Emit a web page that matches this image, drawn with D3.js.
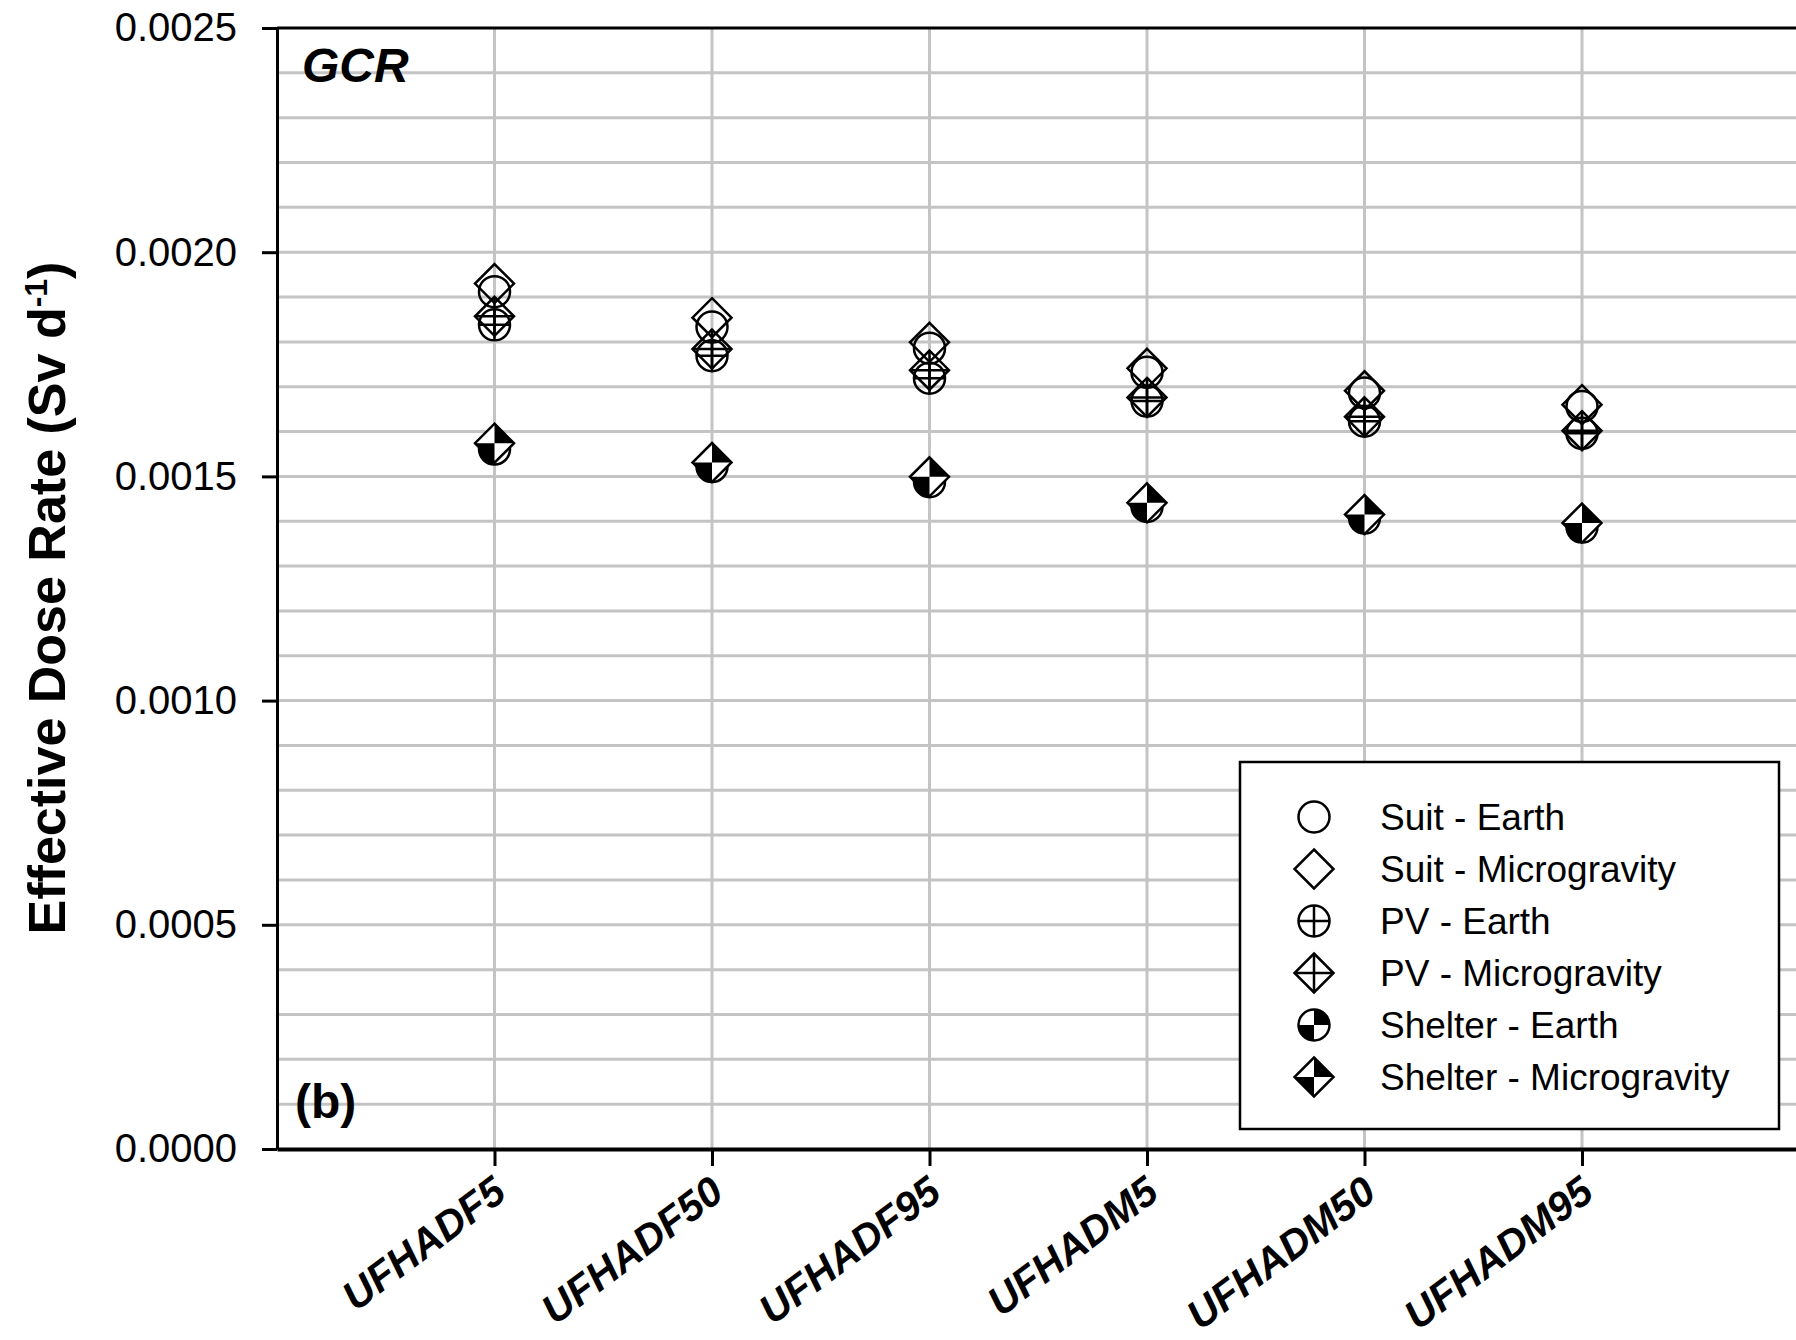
<!DOCTYPE html>
<html>
<head>
<meta charset="utf-8">
<script src="https://cdn.jsdelivr.net/npm/d3@7"></script>
<style>
    body { margin: 0; background: #fff; }
    svg { display: block; font-family: "Liberation Sans", Arial, sans-serif; }
</style>
</head>
<body>
<div id="chart"></div>
<script>
// values (Sv per day)
var categories = ["UFHADF5", "UFHADF50", "UFHADF95", "UFHADM5", "UFHADM50", "UFHADM95"];
var suitEarth = [0.001912, 0.001833, 0.001786, 0.001732, 0.001686, 0.001656];
var suitMicro = [0.001930, 0.001854, 0.001799, 0.001741, 0.001691, 0.001660];
var pvEarth = [0.001838, 0.001769, 0.001719, 0.001668, 0.001623, 0.001596];
var pvMicro = [0.001857, 0.001784, 0.001737, 0.001676, 0.001633, 0.001602];
var shelterEarth = [0.001561, 0.001522, 0.001488, 0.001433, 0.001407, 0.001387];
var shelterMicro = [0.001574, 0.001531, 0.001499, 0.001441, 0.001415, 0.001396];
var yTicks = [0, 0.0005, 0.0010, 0.0015, 0.0020, 0.0025];
var seriesNames = ["Suit - Earth", "Suit - Microgravity", "PV - Earth", "PV - Microgravity", "Shelter - Earth", "Shelter - Microgravity"];

chart();

function chart() {
    var width = 1796
    var height = 1340

    var svg = d3.select("#chart")
        .append("svg")
        .attr("width", width)
        .attr("height", height);

    var left = 277, top = 28, bottom = 1149;

    var x = d3.scaleLinear().domain([0, 7]).range([left, left + 7 * 217.5]);
    var y = d3.scaleLinear().domain([0, 0.0025]).range([bottom, top]);

    var series = [
        { name: seriesNames[0], shape: "circle", kind: "open", values: suitEarth },
        { name: seriesNames[1], shape: "diamond", kind: "open", values: suitMicro },
        { name: seriesNames[2], shape: "circle", kind: "cross", values: pvEarth },
        { name: seriesNames[3], shape: "diamond", kind: "cross", values: pvMicro },
        { name: seriesNames[4], shape: "circle", kind: "half", values: shelterEarth },
        { name: seriesNames[5], shape: "diamond", kind: "half", values: shelterMicro }
    ];

    //grid lines
    var minor = d3.range(1, 25).map(function(i) { return i * 0.0001; });
    svg.append("g")
        .selectAll("line")
        .data(minor)
        .enter()
        .append("line")
        .attr("x1", left)
        .attr("x2", width)
        .attr("y1", function(d) { return y(d); })
        .attr("y2", function(d) { return y(d); })
        .attr("stroke", "#c4c4c4")
        .attr("stroke-width", 3);

    svg.append("g")
        .selectAll("line")
        .data(categories)
        .enter()
        .append("line")
        .attr("x1", function(d, i) { return x(i + 1); })
        .attr("x2", function(d, i) { return x(i + 1); })
        .attr("y1", top)
        .attr("y2", bottom)
        .attr("stroke", "#c4c4c4")
        .attr("stroke-width", 3);

    // top frame line
    svg.append("line")
        .attr("x1", left).attr("x2", width)
        .attr("y1", top).attr("y2", top)
        .attr("stroke", "#000").attr("stroke-width", 3);

    //axes
    var yAxis = svg.append("g")
        .attr("transform", "translate(" + left + ",0)")
        .call(d3.axisLeft(y).tickValues(yTicks).tickSize(15).tickSizeOuter(0).tickFormat(d3.format(".4f")));
    yAxis.select(".domain").attr("stroke-width", 3);
    yAxis.selectAll(".tick line").attr("stroke-width", 3);
    yAxis.selectAll("text")
        .attr("x", -40)
        .style("font-size", "40px")
        .style("font-family", "Liberation Sans, Arial, sans-serif");

    var xAxis = svg.append("g")
        .attr("transform", "translate(0," + bottom + ")")
        .call(d3.axisBottom(x).tickValues(d3.range(1, 7)).tickSize(17).tickSizeOuter(0).tickFormat(""));
    xAxis.select(".domain").attr("stroke-width", 4);
    xAxis.selectAll(".tick line").attr("stroke-width", 3);

    svg.append("g")
        .selectAll("text")
        .data(categories)
        .enter()
        .append("text")
        .attr("transform", function(d, i) { return "translate(" + (x(i + 1) + 14) + "," + (bottom + 48) + ") rotate(-37)"; })
        .attr("text-anchor", "end")
        .style("font-size", "41px")
        .style("font-weight", "bold")
        .style("font-style", "italic")
        .text(function(d) { return d; });

    // y title
    var title = svg.append("text")
        .attr("transform", "translate(65,598) rotate(-90)")
        .attr("text-anchor", "middle")
        .style("font-size", "52px")
        .style("font-weight", "bold");
    title.append("tspan").text("Effective Dose Rate (Sv d");
    title.append("tspan").attr("baseline-shift", "super").style("font-size", "32px").text("-1");
    title.append("tspan").text(")");

    svg.append("text")
        .attr("x", 302).attr("y", 82)
        .style("font-size", "48px").style("font-weight", "bold").style("font-style", "italic")
        .text("GCR");

    svg.append("text")
        .attr("x", 295).attr("y", 1118)
        .style("font-size", "48px").style("font-weight", "bold")
        .text("(b)");

    //making the markers
    series.forEach(function(s) {
        svg.append("g")
            .selectAll("g")
            .data(s.values)
            .enter()
            .append("g")
            .attr("transform", function(d, i) { return "translate(" + x(i + 1) + "," + y(d) + ")"; })
            .each(function() { marker(d3.select(this), s); });
    });

    //legend
    var legend = svg.append("g");
    legend.append("rect")
        .attr("x", 1240).attr("y", 762)
        .attr("width", 539).attr("height", 367)
        .attr("fill", "#fff")
        .attr("stroke", "#000")
        .attr("stroke-width", 2.5);

    var rows = legend.selectAll("g")
        .data(series)
        .enter()
        .append("g")
        .attr("transform", function(d, i) { return "translate(1314," + (817 + i * 52) + ")"; });
    rows.each(function(d) { marker(d3.select(this), d); });
    rows.append("text")
        .attr("x", 66)
        .attr("dy", "0.35em")
        .style("font-size", "37px")
        .text(function(d) { return d.name; });
}

function marker(g, s) {
    var r = 15.5, h = 19.5;
    var outline;
    if (s.shape == "circle") {
        outline = d3.arc()({ innerRadius: 0, outerRadius: r, startAngle: 0, endAngle: 2 * Math.PI });
    } else {
        outline = "M0," + (-h) + "L" + h + ",0L0," + h + "L" + (-h) + ",0Z";
    }

    if (s.kind == "half") {
        g.append("path").attr("d", outline).attr("fill", "#fff");
        if (s.shape == "circle") {
            var arc = d3.arc().innerRadius(0).outerRadius(r);
            g.append("path").attr("d", arc({ startAngle: 0, endAngle: Math.PI / 2 })).attr("fill", "#000");
            g.append("path").attr("d", arc({ startAngle: Math.PI, endAngle: 1.5 * Math.PI })).attr("fill", "#000");
        } else {
            g.append("path").attr("d", "M0,0L0," + (-h) + "L" + h + ",0Z").attr("fill", "#000");
            g.append("path").attr("d", "M0,0L0," + h + "L" + (-h) + ",0Z").attr("fill", "#000");
        }
    }

    g.append("path")
        .attr("d", outline)
        .attr("fill", "none")
        .attr("stroke", "#000")
        .attr("stroke-width", 2.5);

    if (s.kind == "cross") {
        var e = s.shape == "circle" ? r : h;
        g.append("path")
            .attr("d", "M" + (-e) + ",0H" + e + "M0," + (-e) + "V" + e)
            .attr("stroke", "#000")
            .attr("stroke-width", 2.5);
    }
}
</script>
</body>
</html>
